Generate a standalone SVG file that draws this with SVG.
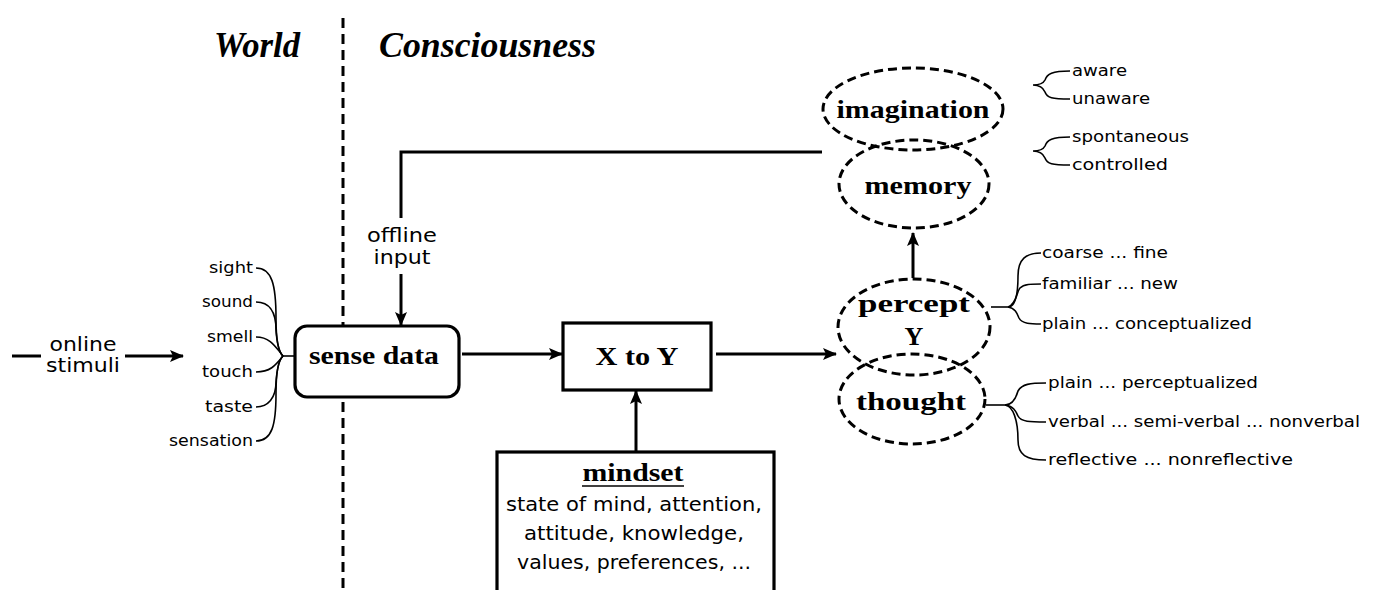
<svg xmlns="http://www.w3.org/2000/svg" width="1373" height="590" viewBox="0 0 1373 590">
  <style>
    .line { fill: none; stroke: #000; stroke-width: 3; }
    .thin { fill: none; stroke: #000; stroke-width: 1.6; }
    .box { fill: #fff; stroke: #000; stroke-width: 3.2; }
    .dashed { fill: none; stroke: #000; stroke-width: 3; stroke-dasharray: 9 5; }
    .head { font-family: "Liberation Serif", serif; font-weight: bold; font-style: italic; font-size: 35px; }
    .node { font-family: "Liberation Serif", serif; font-weight: bold; font-size: 26px; text-anchor: middle; }
    .hand { font-family: "DejaVu Sans", "Liberation Sans", sans-serif; }
    .lbl { font-family: "DejaVu Sans", "Liberation Sans", sans-serif; font-size: 15px; }
  </style>
  <defs>
    <marker id="arrow" markerWidth="14" markerHeight="12" refX="13" refY="6" orient="auto" markerUnits="userSpaceOnUse">
      <path d="M0,0 L14,6 L0,12 L3,6 Z" fill="#000"/>
    </marker>
  </defs>

  <rect width="1373" height="590" fill="#fff"/>

  <!-- World / Consciousness divider -->
  <line x1="343" y1="18" x2="343" y2="590" stroke="#000" stroke-width="3" stroke-dasharray="10 6"/>
  <text class="head" x="214" y="57" textLength="86" lengthAdjust="spacingAndGlyphs">World</text>
  <text class="head" x="379" y="57" textLength="217" lengthAdjust="spacingAndGlyphs">Consciousness</text>

  <!-- connectors -->
  <g id="connectors">
    <!-- online stimuli -->
    <line class="line" x1="12" y1="356" x2="41" y2="356"/>
    <line class="line" x1="125" y1="356" x2="183" y2="356" marker-end="url(#arrow)"/>
    <!-- senses fanning into sense data -->
    <path class="thin" d="M256,268 C272,268 276,285 276,318 C276,340 278,352 283,356"/>
    <path class="thin" d="M256,302 C268,302 276,310 276,330 C277,345 279,352 283,356"/>
    <path class="thin" d="M256,337 C270,337 275,346 283,356"/>
    <path class="thin" d="M256,372 C270,372 275,366 283,356"/>
    <path class="thin" d="M256,407 C268,407 276,398 276,382 C277,368 279,360 283,356"/>
    <path class="thin" d="M256,441 C272,441 276,425 276,394 C276,372 278,360 283,356"/>
    <line class="thin" x1="283" y1="356" x2="295" y2="356"/>
    <!-- offline input loop from imagination/memory -->
    <polyline class="line" points="822,152 401,152 401,218"/>
    <line class="line" x1="401" y1="274" x2="401" y2="325" marker-end="url(#arrow)"/>
    <!-- main flow -->
    <line class="line" x1="462" y1="354" x2="562" y2="354" marker-end="url(#arrow)"/>
    <line class="line" x1="716" y1="354" x2="836" y2="354" marker-end="url(#arrow)"/>
    <line class="line" x1="636" y1="452" x2="636" y2="391" marker-end="url(#arrow)"/>
    <line class="line" x1="913" y1="278" x2="913" y2="233" marker-end="url(#arrow)"/>
    <!-- braces on the right -->
    <path class="thin" d="M1070,71 C1052,71 1047,74 1045,80 C1043,84 1038,85 1033,85 C1038,85 1043,87 1045,92 C1047,98 1052,99 1070,99"/>
    <path class="thin" d="M1070,137 C1052,137 1047,140 1045,146 C1043,150 1038,151 1033,151 C1038,151 1043,153 1045,158 C1047,164 1052,165 1070,165"/>
    <line class="thin" x1="991" y1="307" x2="1008" y2="307"/>
    <path class="thin" d="M1008,307 C1015,307 1018,297 1018,276 C1018,259 1026,253 1041,253"/>
    <path class="thin" d="M1008,307 C1016,305 1017,291 1020,288 C1024,284 1031,284 1041,284"/>
    <path class="thin" d="M1008,307 C1015,308 1017,313 1019,318 C1022,324 1031,324 1041,324"/>
    <line class="thin" x1="986" y1="405" x2="1005" y2="405"/>
    <path class="thin" d="M1005,405 C1012,405 1016,398 1018,391 C1022,384 1030,383 1046,383"/>
    <path class="thin" d="M1005,405 C1014,406 1016,412 1018,416 C1021,422 1030,422 1046,422"/>
    <path class="thin" d="M1005,405 C1013,406 1018,420 1018,440 C1018,455 1026,460 1046,460"/>
  </g>

  <!-- online stimuli label -->
  <g id="online-stimuli" class="hand" font-size="19" text-anchor="middle">
    <text x="83" y="351" textLength="67" lengthAdjust="spacingAndGlyphs">online</text>
    <text x="83" y="372" textLength="74" lengthAdjust="spacingAndGlyphs">stimuli</text>
  </g>

  <!-- senses -->
  <g id="senses" class="lbl" text-anchor="end">
    <text x="253" y="273" textLength="44" lengthAdjust="spacingAndGlyphs">sight</text>
    <text x="253" y="307" textLength="51" lengthAdjust="spacingAndGlyphs">sound</text>
    <text x="253" y="342" textLength="46" lengthAdjust="spacingAndGlyphs">smell</text>
    <text x="253" y="377" textLength="51" lengthAdjust="spacingAndGlyphs">touch</text>
    <text x="253" y="412" textLength="48" lengthAdjust="spacingAndGlyphs">taste</text>
    <text x="253" y="446" textLength="84" lengthAdjust="spacingAndGlyphs">sensation</text>
  </g>

  <!-- offline input label -->
  <g id="offline-input" class="hand" font-size="19" text-anchor="middle">
    <text x="402" y="242" textLength="70" lengthAdjust="spacingAndGlyphs">offline</text>
    <text x="402" y="264" textLength="57" lengthAdjust="spacingAndGlyphs">input</text>
  </g>

  <!-- sense data -->
  <g id="sense-data">
    <rect class="box" x="295" y="326" width="164" height="71" rx="12"/>
    <text class="node" x="374" y="364" textLength="130" lengthAdjust="spacingAndGlyphs">sense data</text>
  </g>

  <!-- X to Y -->
  <g id="x-to-y">
    <rect class="box" x="563" y="323" width="148" height="67"/>
    <text class="node" x="637" y="365" textLength="83" lengthAdjust="spacingAndGlyphs">X to Y</text>
  </g>

  <!-- mindset -->
  <g id="mindset">
    <rect class="box" x="497" y="452" width="277" height="160"/>
    <text class="node" x="633" y="481" textLength="101" lengthAdjust="spacingAndGlyphs">mindset</text>
    <line x1="582" y1="486" x2="684" y2="486" stroke="#000" stroke-width="1.6"/>
    <g class="hand" font-size="19" text-anchor="middle">
      <text x="634" y="511" textLength="256" lengthAdjust="spacingAndGlyphs">state of mind, attention,</text>
      <text x="634" y="540" textLength="220" lengthAdjust="spacingAndGlyphs">attitude, knowledge,</text>
      <text x="634" y="569" textLength="234" lengthAdjust="spacingAndGlyphs">values, preferences, ...</text>
    </g>
  </g>

  <!-- imagination -->
  <g id="imagination">
    <ellipse class="dashed" cx="913" cy="109" rx="90" ry="41"/>
    <text class="node" x="913" y="118" textLength="153" lengthAdjust="spacingAndGlyphs">imagination</text>
  </g>

  <!-- memory -->
  <g id="memory">
    <ellipse class="dashed" cx="914" cy="184" rx="75" ry="44"/>
    <text class="node" x="918" y="194" textLength="107" lengthAdjust="spacingAndGlyphs">memory</text>
  </g>

  <!-- percept Y -->
  <g id="percept">
    <ellipse class="dashed" cx="914" cy="327" rx="76" ry="48"/>
    <text class="node" x="914" y="312" font-size="25" textLength="112" lengthAdjust="spacingAndGlyphs">percept</text>
    <text class="node" x="914" y="345" font-size="24">Y</text>
  </g>

  <!-- thought -->
  <g id="thought">
    <ellipse class="dashed" cx="912" cy="399" rx="73" ry="45"/>
    <text class="node" x="911" y="410" textLength="110" lengthAdjust="spacingAndGlyphs">thought</text>
  </g>

  <!-- qualifiers -->
  <g id="imagination-qualifiers" class="lbl">
    <text x="1072" y="76" textLength="55" lengthAdjust="spacingAndGlyphs">aware</text>
    <text x="1072" y="104" textLength="78" lengthAdjust="spacingAndGlyphs">unaware</text>
  </g>
  <g id="memory-qualifiers" class="lbl">
    <text x="1072" y="142" textLength="117" lengthAdjust="spacingAndGlyphs">spontaneous</text>
    <text x="1072" y="170" textLength="96" lengthAdjust="spacingAndGlyphs">controlled</text>
  </g>
  <g id="percept-qualifiers" class="lbl">
    <text x="1042" y="258" textLength="126" lengthAdjust="spacingAndGlyphs">coarse ... fine</text>
    <text x="1042" y="289" textLength="136" lengthAdjust="spacingAndGlyphs">familiar ... new</text>
    <text x="1042" y="329" textLength="210" lengthAdjust="spacingAndGlyphs">plain ... conceptualized</text>
  </g>
  <g id="thought-qualifiers" class="lbl">
    <text x="1048" y="388" textLength="210" lengthAdjust="spacingAndGlyphs">plain ... perceptualized</text>
    <text x="1048" y="427" textLength="312" lengthAdjust="spacingAndGlyphs">verbal ... semi-verbal ... nonverbal</text>
    <text x="1048" y="465" textLength="245" lengthAdjust="spacingAndGlyphs">reflective ... nonreflective</text>
  </g>
</svg>
